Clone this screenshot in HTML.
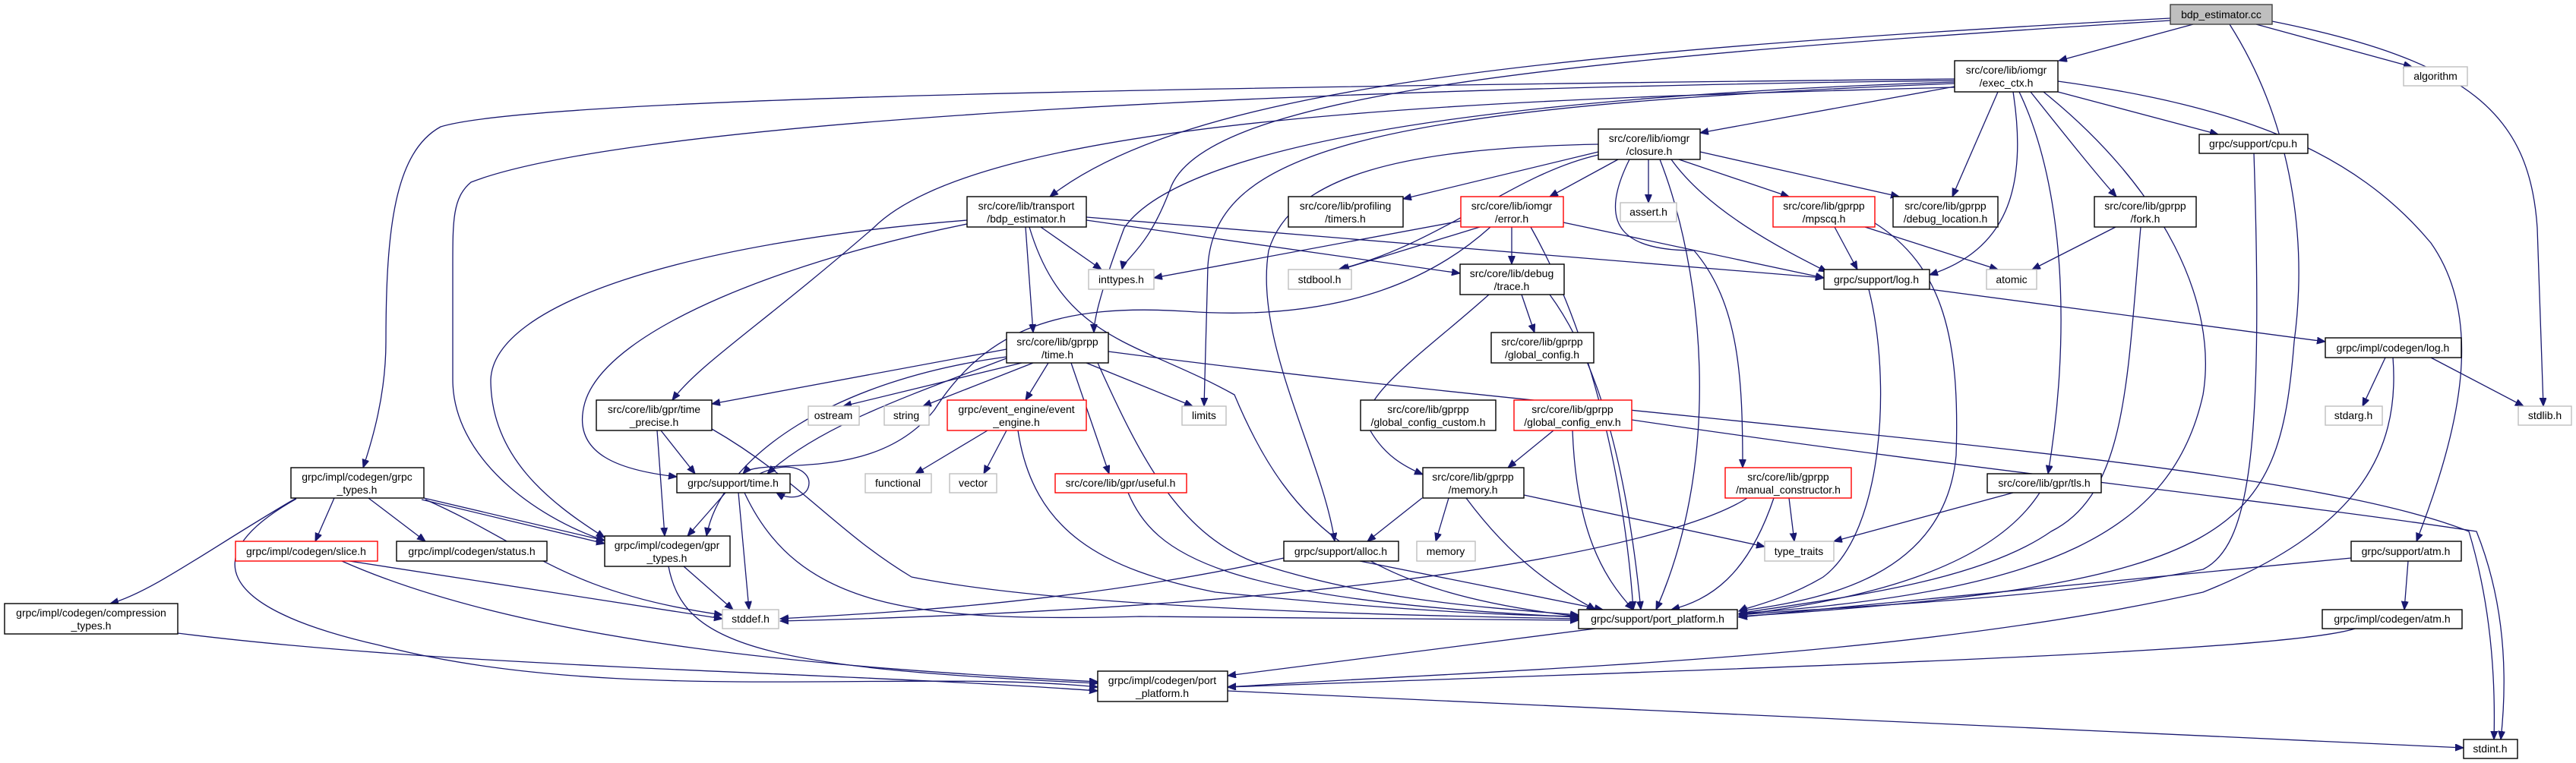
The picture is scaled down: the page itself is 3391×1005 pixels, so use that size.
<!DOCTYPE html>
<html><head><meta charset="utf-8"><style>
html,body{margin:0;padding:0;background:#fff;}
svg{display:block;}
text{font-family:"Liberation Sans",sans-serif;font-size:14px;fill:#000;text-anchor:middle;}
.e{fill:none;stroke:#191970;stroke-width:1.3;marker-end:url(#a);}
.n{fill:#fff;stroke:#000;stroke-width:1.4;}
.g{fill:#fff;stroke:#bfbfbf;stroke-width:1.4;}
.r{fill:#fff;stroke:#ff0000;stroke-width:1.4;}
</style></head><body>
<svg width="3391" height="1005" viewBox="0 0 3391 1005" xmlns="http://www.w3.org/2000/svg">
<defs><marker id="a" markerUnits="userSpaceOnUse" markerWidth="12" markerHeight="10" refX="11" refY="4.5" orient="auto"><path d="M0,0 L11,4.5 L0,9 z" fill="#191970" stroke="#191970"/></marker></defs>
<g>
<path class="e" d="M2887,32 L2710,80"/>
<path class="e" d="M2970,32 L3175,88"/>
<path class="e" d="M2991,28 C3250,80 3330,150 3340,300 L3348,535"/>
<path class="e" d="M2935,32 C3010,150 3040,300 3020,450 C3000,700 2950,770 2289,812"/>
<path class="e" d="M2857,24 C2000,70 1560,120 1382,259"/>
<path class="e" d="M2857,27 C2000,80 1580,130 1540,250 C1510,330 1480,340 1477,355"/>
<path class="e" d="M2573,114 L2238,175"/>
<path class="e" d="M2709,121 L2920,177"/>
<path class="e" d="M2630,121 L2570,259"/>
<path class="e" d="M2650,121 C2670,250 2640,330 2540,362"/>
<path class="e" d="M2673,121 C2720,180 2760,230 2786,259"/>
<path class="e" d="M2658,121 C2720,250 2725,450 2696,624"/>
<path class="e" d="M2690,121 C2850,250 2920,400 2900,520 C2860,700 2700,780 2289,808"/>
<path class="e" d="M2709,107 C2950,140 3100,200 3200,320 C3270,420 3240,560 3181,713"/>
<path class="e" d="M2573,104 C1500,115 700,130 580,167 C520,200 508,300 508,450 C508,520 490,580 478,616"/>
<path class="e" d="M2573,106 C1500,120 800,170 620,240 C596,260 596,290 596,350 L596,500 C596,600 700,680 796,712"/>
<path class="e" d="M1273,290 C900,320 650,400 646,500 C646,600 720,660 796,708"/>
<path class="e" d="M1273,295 C1050,340 800,430 770,530 C750,600 820,620 891,628"/>
<path class="e" d="M2573,115 C2000,130 1300,150 1150,300 C1000,430 920,480 885,527"/>
<path class="e" d="M2573,108 C1900,130 1550,200 1480,300 C1450,380 1440,420 1440,438"/>
<path class="e" d="M2573,110 C1800,140 1600,200 1590,350 L1585,535"/>
<path class="e" d="M2104,200 L1847,262"/>
<path class="e" d="M2130,210 L2040,259"/>
<path class="e" d="M2170,210 L2170,267"/>
<path class="e" d="M2210,210 L2355,259"/>
<path class="e" d="M2238,200 L2500,259"/>
<path class="e" d="M2200,210 C2250,280 2350,330 2405,358"/>
<path class="e" d="M2104,190 C1850,195 1700,230 1670,330 C1650,450 1740,600 1757,713"/>
<path class="e" d="M2104,204 C1990,230 1900,320 1762,355"/>
<path class="e" d="M2145,210 C2100,300 2140,330 2230,330 C2290,400 2294,500 2294,616"/>
<path class="e" d="M2185,210 C2240,350 2270,600 2180,803"/>
<path class="e" d="M1923,291 L1519,366"/>
<path class="e" d="M1948,299 L1765,355"/>
<path class="e" d="M1990,299 L1990,348"/>
<path class="e" d="M2058,293 L2401,366"/>
<path class="e" d="M2015,299 C2100,450 2140,650 2150,803"/>
<path class="e" d="M1962,299 C1850,400 1700,420 1560,410 C1400,400 1300,430 1230,540 C1150,640 1000,600 978,624"/>
<path class="e" d="M1370,299 L1450,355"/>
<path class="e" d="M1350,299 L1360,438"/>
<path class="e" d="M1430,290 L1922,360"/>
<path class="e" d="M1430,286 L2401,366"/>
<path class="e" d="M1355,299 C1400,450 1500,450 1625,520 C1700,700 1800,780 2078,812"/>
<path class="e" d="M2415,299 L2445,355"/>
<path class="e" d="M2455,299 L2630,355"/>
<path class="e" d="M2465,292 C2560,350 2580,450 2575,600 C2560,760 2400,790 2289,805"/>
<path class="e" d="M2785,299 L2675,355"/>
<path class="e" d="M2818,299 C2800,500 2800,650 2700,700 C2600,770 2400,790 2289,808"/>
<path class="e" d="M2967,202 C2980,600 2960,720 2900,750 C2700,790 2400,800 2289,810"/>
<path class="e" d="M2003,388 L2020,438"/>
<path class="e" d="M1960,388 C1880,460 1790,520 1800,560 C1820,600 1850,615 1873,625"/>
<path class="e" d="M2040,388 C2100,470 2140,600 2160,803"/>
<path class="e" d="M2460,381 C2490,500 2480,700 2400,760 C2350,790 2300,800 2289,805"/>
<path class="e" d="M2540,381 L3061,450"/>
<path class="e" d="M3140,471 L3110,535"/>
<path class="e" d="M3200,471 L3322,535"/>
<path class="e" d="M3150,471 C3160,600 3100,700 2900,780 C2500,870 2000,880 1616,905"/>
<path class="e" d="M1325,460 L937,532"/>
<path class="e" d="M1345,478 L1110,535"/>
<path class="e" d="M1360,478 L1215,535"/>
<path class="e" d="M1380,478 L1350,527"/>
<path class="e" d="M1430,478 L1570,535"/>
<path class="e" d="M1410,478 L1460,624"/>
<path class="e" d="M1330,470 C1200,520 1080,560 1010,624"/>
<path class="e" d="M1325,470 C1100,500 950,600 930,706"/>
<path class="e" d="M1445,478 C1500,600 1550,700 1650,740 C1800,790 1950,800 2078,810"/>
<path class="e" d="M1459,463 C2200,560 3000,600 3250,700 C3280,800 3285,900 3283,974"/>
<path class="e" d="M2148,553 C2600,620 3000,660 3260,700 C3300,800 3300,900 3292,974"/>
<path class="e" d="M1616,910 L3243,985"/>
<path class="e" d="M870,567 L915,624"/>
<path class="e" d="M865,567 L875,706"/>
<path class="e" d="M937,565 C1050,630 1100,700 1200,760 C1400,800 1800,810 2078,815"/>
<path class="e" d="M1000,624 C1040,605 1065,620 1065,636 C1065,655 1040,660 1022,649"/>
<path class="e" d="M955,649 L905,706"/>
<path class="e" d="M972,649 L986,803"/>
<path class="e" d="M980,649 C1050,800 1200,820 1500,812 L2078,817"/>
<path class="e" d="M900,746 L965,803"/>
<path class="e" d="M880,746 C900,850 1000,880 1445,900"/>
<path class="e" d="M440,656 L415,713"/>
<path class="e" d="M485,656 L560,713"/>
<path class="e" d="M558,656 L796,712"/>
<path class="e" d="M555,658 L796,716"/>
<path class="e" d="M560,658 C700,720 740,780 951,810"/>
<path class="e" d="M390,656 C280,720 200,780 145,795"/>
<path class="e" d="M390,657 C260,730 280,800 500,850 C800,930 1200,880 1445,905"/>
<path class="e" d="M460,739 L951,815"/>
<path class="e" d="M450,739 C700,850 1100,880 1445,898"/>
<path class="e" d="M234,834 C600,880 1100,885 1445,910"/>
<path class="e" d="M1300,567 L1205,624"/>
<path class="e" d="M1325,567 L1295,624"/>
<path class="e" d="M1340,567 C1360,700 1450,750 1600,780 C1800,800 1950,810 2078,812"/>
<path class="e" d="M1485,649 C1520,730 1600,790 2078,813"/>
<path class="e" d="M2045,567 L1985,616"/>
<path class="e" d="M2070,567 C2075,700 2110,760 2150,803"/>
<path class="e" d="M1872,656 L1800,713"/>
<path class="e" d="M1907,656 L1890,713"/>
<path class="e" d="M1930,656 C2000,750 2060,780 2100,803"/>
<path class="e" d="M2006,652 L2323,720"/>
<path class="e" d="M1690,735 C1400,800 1100,810 1027,815"/>
<path class="e" d="M1790,739 L2110,803"/>
<path class="e" d="M2355,656 L2362,713"/>
<path class="e" d="M2335,656 C2300,760 2250,790 2200,803"/>
<path class="e" d="M2300,656 C2200,720 1800,800 1027,818"/>
<path class="e" d="M2650,649 L2414,713"/>
<path class="e" d="M2685,649 C2620,750 2450,790 2289,810"/>
<path class="e" d="M3095,735 L2289,813"/>
<path class="e" d="M3170,739 L3165,803"/>
<path class="e" d="M3100,828 C3000,860 2300,880 1616,905"/>
<path class="e" d="M2100,828 L1616,890"/>
</g>
<g>
<rect x="2857" y="6" width="134" height="26" fill="#bfbfbf" stroke="#404040" stroke-width="1.4"/><text x="2924" y="24">bdp_estimator.cc</text>
<rect class="n" x="2573" y="80" width="136" height="41"/><text x="2641" y="97">src/core/lib/iomgr</text><text x="2641" y="114">/exec_ctx.h</text>
<rect class="g" x="3164" y="88" width="84" height="25"/><text x="3206" y="105">algorithm</text>
<rect class="n" x="2104" y="170" width="134" height="40"/><text x="2171" y="187">src/core/lib/iomgr</text><text x="2171" y="204">/closure.h</text>
<rect class="n" x="2895" y="177" width="143" height="25"/><text x="2966" y="194">grpc/support/cpu.h</text>
<rect class="n" x="1273" y="259" width="157" height="40"/><text x="1351" y="276">src/core/lib/transport</text><text x="1351" y="293">/bdp_estimator.h</text>
<rect class="n" x="1696" y="259" width="151" height="40"/><text x="1771" y="276">src/core/lib/profiling</text><text x="1771" y="293">/timers.h</text>
<rect class="r" x="1923" y="259" width="135" height="40"/><text x="1990" y="276">src/core/lib/iomgr</text><text x="1990" y="293">/error.h</text>
<rect class="g" x="2133" y="267" width="74" height="25"/><text x="2170" y="284">assert.h</text>
<rect class="r" x="2334" y="259" width="134" height="40"/><text x="2401" y="276">src/core/lib/gprpp</text><text x="2401" y="293">/mpscq.h</text>
<rect class="n" x="2492" y="259" width="138" height="40"/><text x="2561" y="276">src/core/lib/gprpp</text><text x="2561" y="293">/debug_location.h</text>
<rect class="n" x="2757" y="259" width="134" height="40"/><text x="2824" y="276">src/core/lib/gprpp</text><text x="2824" y="293">/fork.h</text>
<rect class="g" x="1433" y="355" width="86" height="26"/><text x="1476" y="373">inttypes.h</text>
<rect class="g" x="1696" y="355" width="83" height="26"/><text x="1737" y="373">stdbool.h</text>
<rect class="n" x="1922" y="348" width="137" height="40"/><text x="1990" y="365">src/core/lib/debug</text><text x="1990" y="382">/trace.h</text>
<rect class="n" x="2401" y="355" width="139" height="26"/><text x="2470" y="373">grpc/support/log.h</text>
<rect class="g" x="2615" y="355" width="66" height="26"/><text x="2648" y="373">atomic</text>
<rect class="n" x="1325" y="438" width="134" height="40"/><text x="1392" y="455">src/core/lib/gprpp</text><text x="1392" y="472">/time.h</text>
<rect class="n" x="1963" y="438" width="135" height="40"/><text x="2030" y="455">src/core/lib/gprpp</text><text x="2030" y="472">/global_config.h</text>
<rect class="n" x="3061" y="445" width="179" height="26"/><text x="3150" y="463">grpc/impl/codegen/log.h</text>
<rect class="n" x="785" y="527" width="152" height="40"/><text x="861" y="544">src/core/lib/gpr/time</text><text x="861" y="561">_precise.h</text>
<rect class="g" x="1064" y="535" width="67" height="25"/><text x="1097" y="552">ostream</text>
<rect class="g" x="1164" y="535" width="59" height="25"/><text x="1193" y="552">string</text>
<rect class="r" x="1247" y="527" width="183" height="40"/><text x="1338" y="544">grpc/event_engine/event</text><text x="1338" y="561">_engine.h</text>
<rect class="g" x="1556" y="535" width="58" height="25"/><text x="1585" y="552">limits</text>
<rect class="n" x="1791" y="527" width="178" height="40"/><text x="1880" y="544">src/core/lib/gprpp</text><text x="1880" y="561">/global_config_custom.h</text>
<rect class="r" x="1993" y="527" width="155" height="40"/><text x="2070" y="544">src/core/lib/gprpp</text><text x="2070" y="561">/global_config_env.h</text>
<rect class="g" x="3061" y="535" width="75" height="25"/><text x="3098" y="552">stdarg.h</text>
<rect class="g" x="3315" y="535" width="70" height="25"/><text x="3350" y="552">stdlib.h</text>
<rect class="n" x="383" y="616" width="175" height="40"/><text x="470" y="633">grpc/impl/codegen/grpc</text><text x="470" y="650">_types.h</text>
<rect class="n" x="891" y="624" width="149" height="25"/><text x="965" y="641">grpc/support/time.h</text>
<rect class="g" x="1139" y="624" width="87" height="25"/><text x="1182" y="641">functional</text>
<rect class="g" x="1250" y="624" width="62" height="25"/><text x="1281" y="641">vector</text>
<rect class="r" x="1389" y="624" width="173" height="25"/><text x="1475" y="641">src/core/lib/gpr/useful.h</text>
<rect class="n" x="1873" y="616" width="133" height="40"/><text x="1939" y="633">src/core/lib/gprpp</text><text x="1939" y="650">/memory.h</text>
<rect class="r" x="2271" y="616" width="166" height="40"/><text x="2354" y="633">src/core/lib/gprpp</text><text x="2354" y="650">/manual_constructor.h</text>
<rect class="n" x="2616" y="624" width="150" height="25"/><text x="2691" y="641">src/core/lib/gpr/tls.h</text>
<rect class="r" x="310" y="713" width="187" height="26"/><text x="403" y="731">grpc/impl/codegen/slice.h</text>
<rect class="n" x="522" y="713" width="198" height="26"/><text x="621" y="731">grpc/impl/codegen/status.h</text>
<rect class="n" x="796" y="706" width="165" height="40"/><text x="878" y="723">grpc/impl/codegen/gpr</text><text x="878" y="740">_types.h</text>
<rect class="n" x="1690" y="713" width="151" height="26"/><text x="1765" y="731">grpc/support/alloc.h</text>
<rect class="g" x="1865" y="713" width="77" height="26"/><text x="1903" y="731">memory</text>
<rect class="g" x="2323" y="713" width="91" height="26"/><text x="2368" y="731">type_traits</text>
<rect class="n" x="3095" y="713" width="145" height="26"/><text x="3167" y="731">grpc/support/atm.h</text>
<rect class="g" x="951" y="803" width="74" height="25"/><text x="988" y="820">stddef.h</text>
<rect class="n" x="2078" y="803" width="209" height="25"/><text x="2182" y="820">grpc/support/port_platform.h</text>
<rect class="n" x="3057" y="803" width="184" height="25"/><text x="3149" y="820">grpc/impl/codegen/atm.h</text>
<rect class="n" x="6" y="795" width="228" height="40"/><text x="120" y="812">grpc/impl/codegen/compression</text><text x="120" y="829">_types.h</text>
<rect class="n" x="1445" y="884" width="171" height="40"/><text x="1530" y="901">grpc/impl/codegen/port</text><text x="1530" y="918">_platform.h</text>
<rect class="n" x="3243" y="974" width="71" height="25"/><text x="3278" y="991">stdint.h</text>
</g>
</svg>
</body></html>
